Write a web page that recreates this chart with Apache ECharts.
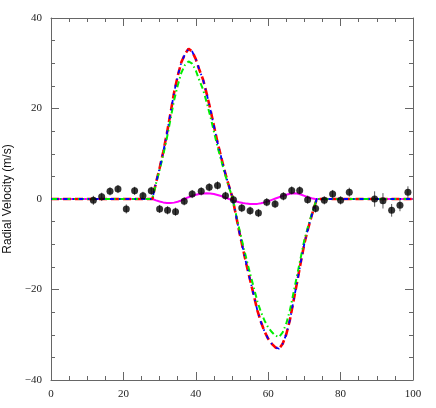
<!DOCTYPE html>
<html>
<head>
<meta charset="utf-8">
<script src="https://cdn.jsdelivr.net/npm/echarts@6/dist/echarts.min.js"></script>
<style>
  html, body { margin: 0; padding: 0; background: #fff; }
  #chart { width: 436px; height: 408px; }
</style>
</head>
<body>
<div id="chart"></div>
<script>
// model curves sampled along phase
const modelX = [0, 28, 29, 30, 31, 32, 33, 34, 35, 36, 37, 38, 39, 40, 41, 42, 43, 44, 45, 46, 47, 48, 49, 50,
  51, 52, 53, 54, 55, 56, 57, 58, 59, 60, 61, 62, 63, 64, 65, 66, 67, 68, 69, 70, 71, 72, 73, 73.4, 100];
const redVel = [0, 0, 3.6, 6.8, 10.4, 14.4, 18.9, 23.5, 27.2, 30.2, 32.0, 33.2, 32.6, 30.9, 28.5, 26.4, 23.3, 19.9,
  16.2, 12.5, 9.3, 6.1, 3.3, 0.7, -3.2, -7.2, -10.9, -14.5, -17.9, -21.2, -24.6, -27.2, -29.3, -30.9, -32.0, -32.8,
  -33.1, -32.0, -29.9, -26.7, -22.5, -18.3, -14.0, -9.8, -6.6, -3.7, -1.1, 0, 0];
const blueVel = [0, 0, 3.6, 6.8, 10.4, 14.4, 18.9, 23.5, 27.2, 30.2, 32.0, 33.2, 32.6, 30.9, 28.5, 26.4, 23.3, 19.9,
  16.2, 12.5, 9.3, 6.1, 3.3, 0.7, -3.2, -7.2, -10.9, -14.5, -17.9, -21.2, -24.6, -27.2, -29.3, -30.9, -32.0, -32.8,
  -33.1, -32.0, -29.9, -26.7, -22.5, -18.3, -14.0, -9.8, -6.6, -3.7, -1.1, 0, 0];
const greenVel = [0, 0, 3.4, 6.4, 9.7, 13.4, 17.6, 21.8, 25.1, 27.9, 29.6, 30.4, 29.9, 28.4, 26.2, 24.2, 21.4, 18.3,
  14.9, 11.5, 8.6, 5.6, 3.0, 0.6, -3.0, -6.6, -10.0, -13.3, -16.5, -19.5, -22.6, -25.0, -26.9, -28.4, -29.4, -30.2,
  -30.5, -29.5, -27.5, -24.6, -20.7, -16.8, -12.9, -9.0, -6.1, -3.4, -1.0, 0, 0];
const magentaVel = [0, 0, -0.3, -0.55, -0.75, -0.87, -0.9, -0.8, -0.6, -0.3, 0.05, 0.4, 0.7, 0.95, 1.12, 1.22, 1.26,
  1.22, 1.1, 0.9, 0.65, 0.35, 0.05, -0.25, -0.5, -0.72, -0.9, -1.02, -1.1, -1.12, -1.08, -0.95, -0.75, -0.5, -0.2,
  0.1, 0.4, 0.7, 0.95, 1.15, 1.25, 1.2, 1.0, 0.7, 0.4, 0.15, 0.02, 0, 0];

// observations with error bars
const obsX = [11.7, 14.0, 16.3, 18.5, 20.8, 23.1, 25.4, 27.7, 30.0, 32.2, 34.4, 36.8, 39.0, 41.5, 43.7, 46.0, 48.2,
  50.4, 52.7, 55.0, 57.3, 59.6, 61.9, 64.2, 66.5, 68.7, 70.9, 73.1, 75.5, 77.8, 80.0, 82.4, 89.4, 91.7, 94.1, 96.4, 98.6];
const obsV = [-0.3, 0.5, 1.7, 2.2, -2.2, 1.8, 0.7, 1.8, -2.2, -2.5, -2.8, -0.5, 1.1, 1.7, 2.6, 3.0, 0.7,
  -0.15, -2.0, -2.6, -3.1, -0.7, -1.1, 0.6, 1.9, 1.9, -0.15, -2.1, -0.3, 1.1, -0.3, 1.5, 0, -0.4, -2.5, -1.4, 1.5];
const obsErr = [1.0, 0.9, 0.9, 0.9, 1.0, 0.9, 0.9, 0.9, 0.9, 0.9, 0.9, 0.9, 0.9, 0.9, 0.9, 0.9, 0.9,
  0.9, 0.9, 0.9, 0.9, 0.9, 0.9, 0.9, 0.9, 0.9, 0.9, 0.9, 0.9, 0.9, 0.9, 1.0, 1.7, 1.7, 1.4, 1.3, 1.3];

const xTicks = [0, 20, 40, 60, 80, 100];
const yTicks = [-40, -20, 0, 20, 40];

const pair = (ys) => modelX.map((x, i) => [x, ys[i]]);
const serif = "'Liberation Serif', 'Times New Roman', serif";
const axisColor = '#666';

function frameAxis(pos, show) {
  return {
    type: 'value',
    position: pos,
    axisLine: { show: true, onZero: false, lineStyle: { color: axisColor, width: 1 } },
    axisTick: { show: true, inside: true, length: 8, lineStyle: { color: axisColor } },
    minorTick: { show: true, splitNumber: 4, length: 4, lineStyle: { color: axisColor } },
    splitLine: { show: false },
    axisLabel: {
      show: show,
      fontFamily: serif,
      fontSize: 11,
      color: '#222',
      formatter: (v) => String(v).replace('-', '\u2212')
    }
  };
}

const chart = echarts.init(document.getElementById('chart'));

const xBottom = Object.assign(frameAxis('bottom', true), { min: xTicks[0], max: xTicks[xTicks.length - 1], interval: 20 });
xBottom.axisLabel.margin = 9;
const xTop = Object.assign(frameAxis('top', false), { min: xTicks[0], max: xTicks[xTicks.length - 1], interval: 20 });
const yLeft = Object.assign(frameAxis('left', true), {
  min: yTicks[0], max: yTicks[yTicks.length - 1], interval: 20,
  name: 'Radial Velocity (m/s)', nameLocation: 'middle', nameGap: 35,
  nameTextStyle: { fontFamily: "'Liberation Sans', Arial, sans-serif", fontSize: 12, color: '#111' }
});
yLeft.axisLabel.margin = 9;
const yRight = Object.assign(frameAxis('right', false), { min: yTicks[0], max: yTicks[yTicks.length - 1], interval: 20 });

const option = {
  animation: false,
  backgroundColor: '#fff',
  grid: { left: 51, right: 23, top: 18, bottom: 28, outerBoundsMode: 'none', containLabel: false },
  xAxis: [xBottom, xTop],
  yAxis: [yLeft, yRight],
  series: [
    {
      type: 'line', data: pair(magentaVel), showSymbol: false,
      lineStyle: { color: '#ff00ff', width: 2 }, z: 2
    },
    {
      type: 'line', data: pair(redVel), showSymbol: false,
      lineStyle: { color: '#ff0000', width: 2.6, type: [8, 4] }, z: 3
    },
    {
      type: 'line', data: pair(greenVel), showSymbol: false,
      lineStyle: { color: '#00ee00', width: 2, type: [6, 3, 1.5, 3] }, z: 4
    },
    {
      type: 'line', data: pair(blueVel), showSymbol: false,
      lineStyle: { color: '#0000ff', width: 1.8, type: [4, 5, 1.5, 5], dashOffset: 3 }, z: 5
    },
    {
      type: 'custom',
      data: obsX.map((x, i) => [x, obsV[i], obsErr[i]]),
      renderItem: function (params, api) {
        const x = api.value(0), y = api.value(1), e = api.value(2);
        const lo = api.coord([x, y - e]);
        const hi = api.coord([x, y + e]);
        return {
          type: 'line',
          shape: { x1: lo[0], y1: lo[1], x2: hi[0], y2: hi[1] },
          style: { stroke: '#555', lineWidth: 1 }
        };
      },
      z: 6
    },
    {
      type: 'scatter',
      data: obsX.map((x, i) => [x, obsV[i]]),
      symbolSize: 7,
      itemStyle: { color: '#000' },
      z: 7
    }
  ]
};

chart.setOption(option);
</script>
</body>
</html>
